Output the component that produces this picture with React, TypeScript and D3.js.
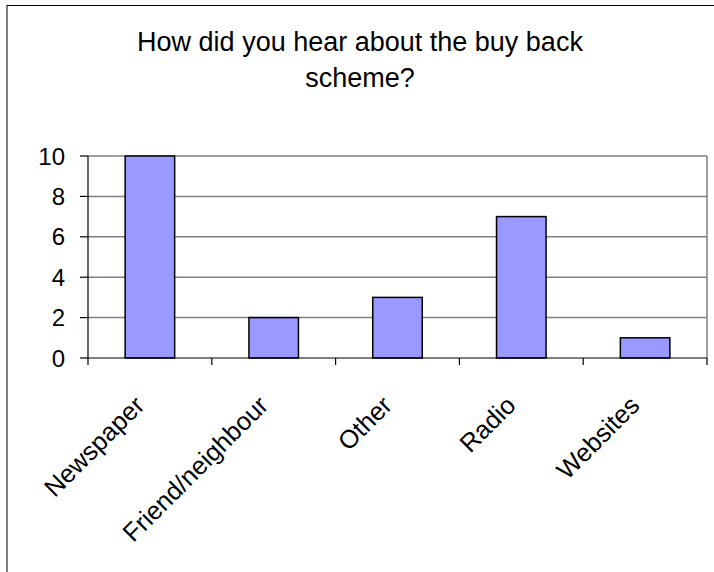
import React from "react";
import * as d3 from "d3";

const categories = ["Newspaper", "Friend/neighbour", "Other", "Radio", "Websites"];
const values = [10, 2, 3, 7, 1];
const yTicks = [0, 2, 4, 6, 8, 10];
const titleLines = ["How did you hear about the buy back", "scheme?"];

const W = 714;
const H = 572;
const plot = { left: 88, right: 707, top: 156, bottom: 358 };
const FONT = "'Liberation Sans', Arial, sans-serif";

export default function App() {
  const x = d3
    .scaleBand<string>()
    .domain(categories)
    .range([plot.left, plot.right])
    .paddingInner(0)
    .paddingOuter(0);
  const y = d3.scaleLinear().domain([0, 10]).range([plot.bottom, plot.top]);
  const bw = x.bandwidth() / 2.5;
  const boundaries = [...categories.map((c) => x(c) as number), plot.right];

  return (
    <svg
      width={W}
      height={H}
      style={{ position: "absolute", left: 0, top: 0, background: "#fff" }}
      fontFamily={FONT}
    >
      <rect x={0} y={0} width={W} height={H} fill="#fff" />
      {/* outer chart border (cropped right/bottom) */}
      <rect x={7} y={5.5} width={W + 10} height={H + 10} fill="none" stroke="#000" strokeWidth={1} />

      {/* title */}
      <text textAnchor="middle" fontSize={27} fill="#000">
        {titleLines.map((t, i) => (
          <tspan key={i} x={360} y={51 + i * 36}>
            {t}
          </tspan>
        ))}
      </text>

      {/* gridlines */}
      {yTicks.map((t) =>
        t === 0 ? null : (
          <line
            key={t}
            x1={plot.left}
            x2={plot.right}
            y1={y(t)}
            y2={y(t)}
            stroke="#808080"
            strokeWidth={1.5}
          />
        )
      )}
      {/* right border */}
      <line x1={plot.right} x2={plot.right} y1={plot.top} y2={plot.bottom} stroke="#808080" strokeWidth={1.5} />

      {/* bars */}
      {categories.map((c, i) => {
        const cx = (x(c) as number) + x.bandwidth() / 2;
        return (
          <rect
            key={c}
            x={cx - bw / 2}
            y={y(values[i])}
            width={bw}
            height={plot.bottom - y(values[i])}
            fill="#9999FF"
            stroke="#000"
            strokeWidth={1.5}
          />
        );
      })}

      {/* y axis */}
      <line x1={plot.left} x2={plot.left} y1={plot.top} y2={plot.bottom} stroke="#000" strokeWidth={1.2} />
      {yTicks.map((t) => (
        <g key={t}>
          <line x1={plot.left - 8} x2={plot.left} y1={y(t)} y2={y(t)} stroke="#000" strokeWidth={1.2} />
          <text x={65} y={y(t)} dy="0.36em" textAnchor="end" fontSize={24} fill="#000">
            {t}
          </text>
        </g>
      ))}

      {/* x axis */}
      <line x1={plot.left} x2={plot.right} y1={plot.bottom} y2={plot.bottom} stroke="#000" strokeWidth={1.2} />
      {boundaries.map((b, i) => (
        <line key={i} x1={b} x2={b} y1={plot.bottom} y2={plot.bottom + 7} stroke="#000" strokeWidth={1.2} />
      ))}
      {categories.map((c) => {
        const cx = (x(c) as number) + x.bandwidth() / 2;
        const ax = cx - 4;
        const ay = 407;
        return (
          <text
            key={c}
            x={ax}
            y={ay}
            textAnchor="end"
            fontSize={25.5}
            fill="#000"
            transform={`rotate(-45 ${ax} ${ay})`}
          >
            {c}
          </text>
        );
      })}
    </svg>
  );
}
